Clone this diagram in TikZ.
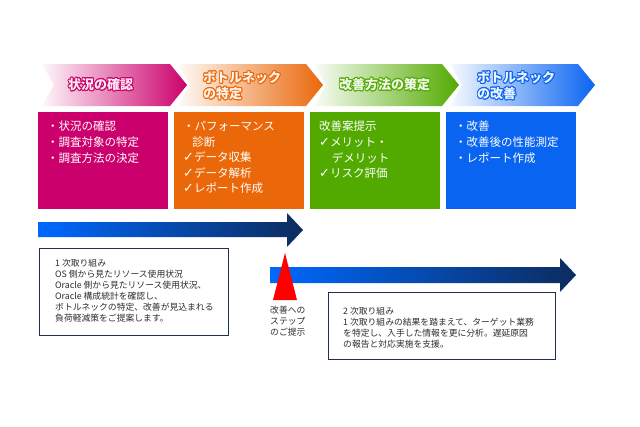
\documentclass[tikz,border=0pt]{standalone}
\usepackage{fontspec}
\setmainfont{Noto Sans CJK JP}
\newfontfamily\symfont{DejaVu Sans}
\usepackage[copies]{contour}
\contourlength{0.9pt}
\usepackage{tikz}
\usetikzlibrary{calc}

\definecolor{stagemag}{RGB}{204,0,108}
\definecolor{stageora}{RGB}{234,104,10}
\definecolor{stagegrn}{RGB}{82,170,0}
\definecolor{stageblu}{RGB}{10,100,242}
\definecolor{flowlight}{RGB}{0,104,255}
\definecolor{flowdark}{RGB}{12,44,94}
\definecolor{memoline}{RGB}{30,46,80}
\definecolor{memotext}{RGB}{45,45,45}
\newcommand\headline[2]{\textcolor{#1!8}{\contour{#1}{#2}}}
\newcommand\chk{{\symfont\fontsize{13}{15.6}\selectfont ✓}}

\begin{document}
\begin{tikzpicture}[x=1pt,y=-1pt,
  stagehead/.style={font=\fontsize{13}{16}\selectfont\bfseries,align=left,inner sep=0,anchor=west},
  stagelist/.style={font=\fontsize{11.5}{15.6}\selectfont,text=white,align=left,inner sep=0,anchor=north west},
  memo/.style={font=\fontsize{8.8}{11}\selectfont,text=memotext,align=left,inner sep=0,anchor=north west},
  memobox/.style={draw=memoline,line width=0.9pt,fill=white}]
\useasboundingbox[fill=white] (0,0) rectangle (640,426);
\foreach \x/\c in {38/stagemag,174/stageora,310/stagegrn,446/stageblu}{
  \shade[left color=\c!3,right color=\c] (\x+4,64)--(\x+132,64)--(\x+149,85)--(\x+132,106)--(\x+4,106)--(\x+16,85)--cycle;
  \fill[\c] (\x,112) rectangle (\x+130,209);
}
\node[stagehead] (head1) at (68,85) {\headline{stagemag}{状況の確認}};
\node[stagehead] (head2) at (203,86) {\headline{stageora}{ボトルネック}\\\headline{stageora}{の特定}};
\node[stagehead] (head3) at (339,85) {\headline{stagegrn}{改善方法の策定}};
\node[stagehead] (head4) at (477,86) {\headline{stageblu}{ボトルネック}\\\headline{stageblu}{の改善}};

\node[stagelist] (list1) at (47,121) {・状況の確認\\・調査対象の特定\\・調査方法の決定};
\node[stagelist] (list2) at (183,121) {・パフォーマンス\\\hspace{0.8em}診断\\\chk データ収集\\\chk データ解析\\\chk レポート作成};
\node[stagelist] (list3) at (319,121) {改善案提示\\\chk メリット・\\\hspace{1.1em}デメリット\\\chk リスク評価};
\node[stagelist] (list4) at (455,121) {・改善\\・改善後の性能測定\\・レポート作成};

\shade[left color=flowlight,right color=flowdark] (38,222)--(287,222)--(287,213)--(303,230)--(287,247)--(287,237)--(38,237)--cycle;
\shade[left color=flowlight,right color=flowdark] (270,267)--(560,267)--(560,258)--(576,275)--(560,292)--(560,283)--(270,283)--cycle;
\fill[red] (285,253)--(297,300)--(273,300)--cycle;

\draw[memobox] (39,248) rectangle (228,335);
\draw[memobox] (328,292) rectangle (555,359);
\node[memo] (memo1) at (55,259) {1 次取り組み\\OS 側から見たリソース使用状況\\Oracle 側から見たリソース使用状況、\\Oracle 構成統計を確認し、\\ボトルネックの特定、改善が見込まれる\\負荷軽減策をご提案します。};
\node[memo] (memo2) at (343,307) {2 次取り組み\\1 次取り組みの結果を踏まえて、ターゲット業務\\を特定し、入手した情報を更に分析。遅延原因\\の報告と対応実施を支援。};
\node[memo] (step) at (270,306) {改善への\\ステップ\\のご提示};
\end{tikzpicture}
\end{document}
